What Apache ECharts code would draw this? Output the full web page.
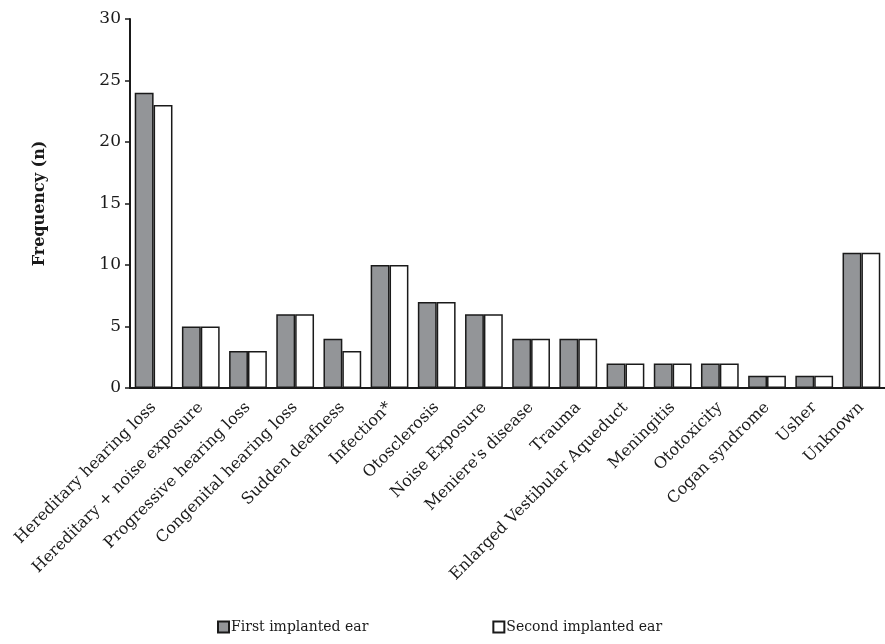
<!DOCTYPE html>
<html><head><meta charset="utf-8">
<script src="https://cdn.jsdelivr.net/npm/echarts@6/dist/echarts.min.js"></script>
<style>html,body{margin:0;padding:0;background:#fff}#c{width:885px;height:644px}</style>
</head><body><div id="c"></div>
<script>
const categories = ["Hereditary hearing loss","Hereditary + noise exposure","Progressive hearing loss","Congenital hearing loss","Sudden deafness","Infection*","Otosclerosis","Noise Exposure","Meniere's disease","Trauma","Enlarged Vestibular Aqueduct","Meningitis","Ototoxicity","Cogan syndrome","Usher","Unknown"];
const firstEar = [24,5,3,6,4,10,7,6,4,4,2,2,2,1,1,11];
const secondEar = [23,5,3,6,3,10,7,6,4,4,2,2,2,1,1,11];
const yTicks = [0,5,10,15,20,25,30];

const FONT = "DejaVu Serif";
const chart = echarts.init(document.getElementById('c'));
chart.setOption({
  animation:false,
  textStyle:{fontFamily:FONT,color:'#1a1a1a'},
  grid:{left:130,top:19,width:763,height:369,containLabel:false},
  legend:{
    bottom:5,left:212,itemGap:124,itemWidth:11,itemHeight:11,icon:'rect',
    textStyle:{fontFamily:FONT,fontSize:14,color:'#1a1a1a',padding:[0,0,0,-3]},
    data:['First implanted ear','Second implanted ear']
  },
  xAxis:{
    type:'category',data:categories,
    axisLine:{lineStyle:{color:'#1a1a1a',width:2}},
    axisTick:{show:false},
    axisLabel:{rotate:45,interval:0,fontFamily:FONT,fontSize:16,color:'#1a1a1a',margin:17}
  },
  yAxis:{
    type:'value',min:yTicks[0],max:yTicks[yTicks.length-1],interval:5,
    name:'Frequency (n)',nameLocation:'middle',nameGap:82,
    nameTextStyle:{fontFamily:FONT,fontWeight:'bold',fontSize:16,color:'#1a1a1a'},
    axisLine:{show:true,lineStyle:{color:'#1a1a1a',width:2}},
    axisTick:{show:true,length:5,lineStyle:{color:'#1a1a1a',width:1.5}},
    splitLine:{show:false},
    axisLabel:{fontFamily:FONT,fontSize:17,color:'#1a1a1a',margin:9}
  },
  series:[
    {name:'First implanted ear',type:'bar',data:firstEar,barGap:'0%',barCategoryGap:'20%',
     itemStyle:{color:'#939598',borderColor:'#1a1a1a',borderWidth:1.5}},
    {name:'Second implanted ear',type:'bar',data:secondEar,
     itemStyle:{color:'#ffffff',borderColor:'#1a1a1a',borderWidth:1.5}}
  ]
});
</script></body></html>
